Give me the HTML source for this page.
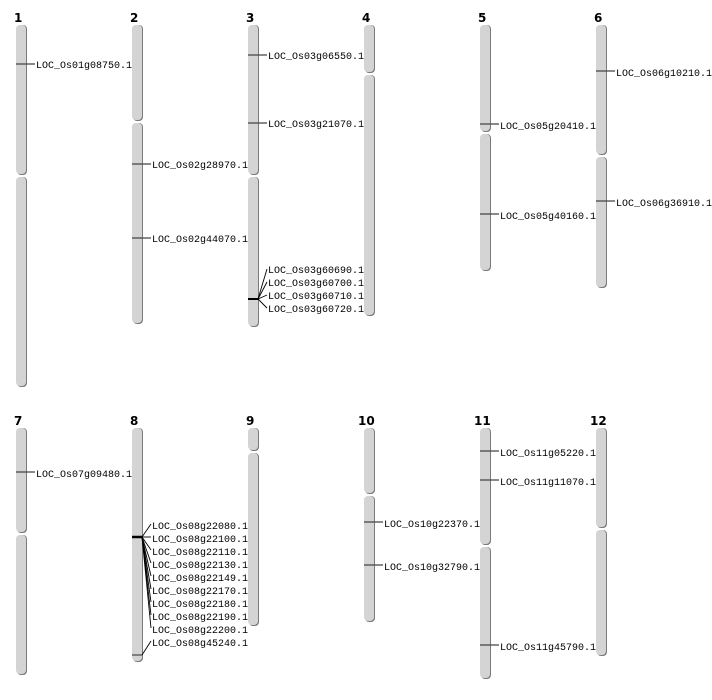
<!DOCTYPE html><html><head><style>body{margin:0;background:#fff}svg{display:block}text{font-family:"Liberation Mono","DejaVu Sans Mono",monospace;font-size:10px;fill:#000}.t{font-family:"DejaVu Sans","Liberation Sans",sans-serif;font-weight:bold;font-size:12px}.s{fill:#7a7a7a}.c{fill:#d4d4d4}.m{stroke:#444;stroke-width:1.2}.f{stroke:#000;stroke-width:0.9}</style></head><body>
<svg width="712" height="700" xmlns="http://www.w3.org/2000/svg">
<g id="chroms">
<rect class="s" x="17" y="25" width="10" height="150" rx="4"/><rect class="c" x="16" y="25" width="10" height="149" rx="4"/>
<rect class="s" x="17" y="177" width="10" height="210" rx="4"/><rect class="c" x="16" y="177" width="10" height="209" rx="4"/>
<rect class="s" x="133" y="25" width="10" height="96" rx="4"/><rect class="c" x="132" y="25" width="10" height="95" rx="4"/>
<rect class="s" x="133" y="123" width="10" height="201" rx="4"/><rect class="c" x="132" y="123" width="10" height="200" rx="4"/>
<rect class="s" x="249" y="25" width="10" height="150" rx="4"/><rect class="c" x="248" y="25" width="10" height="149" rx="4"/>
<rect class="s" x="249" y="177" width="10" height="150" rx="4"/><rect class="c" x="248" y="177" width="10" height="149" rx="4"/>
<rect class="s" x="365" y="25" width="10" height="48" rx="4"/><rect class="c" x="364" y="25" width="10" height="47" rx="4"/>
<rect class="s" x="365" y="75" width="10" height="241" rx="4"/><rect class="c" x="364" y="75" width="10" height="240" rx="4"/>
<rect class="s" x="481" y="25" width="10" height="107" rx="4"/><rect class="c" x="480" y="25" width="10" height="106" rx="4"/>
<rect class="s" x="481" y="134" width="10" height="137" rx="4"/><rect class="c" x="480" y="134" width="10" height="136" rx="4"/>
<rect class="s" x="597" y="25" width="10" height="130" rx="4"/><rect class="c" x="596" y="25" width="10" height="129" rx="4"/>
<rect class="s" x="597" y="157" width="10" height="131" rx="4"/><rect class="c" x="596" y="157" width="10" height="130" rx="4"/>
<rect class="s" x="17" y="428" width="10" height="105" rx="4"/><rect class="c" x="16" y="428" width="10" height="104" rx="4"/>
<rect class="s" x="17" y="535" width="10" height="140" rx="4"/><rect class="c" x="16" y="535" width="10" height="139" rx="4"/>
<rect class="s" x="133" y="428" width="10" height="234" rx="4"/><rect class="c" x="132" y="428" width="10" height="233" rx="4"/>
<rect class="s" x="249" y="428" width="10" height="23" rx="4"/><rect class="c" x="248" y="428" width="10" height="22" rx="4"/>
<rect class="s" x="249" y="453" width="10" height="173" rx="4"/><rect class="c" x="248" y="453" width="10" height="172" rx="4"/>
<rect class="s" x="365" y="428" width="10" height="66" rx="4"/><rect class="c" x="364" y="428" width="10" height="65" rx="4"/>
<rect class="s" x="365" y="496" width="10" height="126" rx="4"/><rect class="c" x="364" y="496" width="10" height="125" rx="4"/>
<rect class="s" x="481" y="428" width="10" height="117" rx="4"/><rect class="c" x="480" y="428" width="10" height="116" rx="4"/>
<rect class="s" x="481" y="547" width="10" height="132" rx="4"/><rect class="c" x="480" y="547" width="10" height="131" rx="4"/>
<rect class="s" x="597" y="428" width="10" height="100" rx="4"/><rect class="c" x="596" y="428" width="10" height="99" rx="4"/>
<rect class="s" x="597" y="530" width="10" height="126" rx="4"/><rect class="c" x="596" y="530" width="10" height="125" rx="4"/>
</g>
<g>
<text class="t" x="14" y="22">1</text><text class="t" x="130" y="22">2</text><text class="t" x="246" y="22">3</text><text class="t" x="362" y="22">4</text><text class="t" x="478" y="22">5</text><text class="t" x="594" y="22">6</text>
<text class="t" x="14" y="425">7</text><text class="t" x="130" y="425">8</text><text class="t" x="246" y="425">9</text><text class="t" x="358" y="425">10</text><text class="t" x="474" y="425">11</text><text class="t" x="590" y="425">12</text>
</g>
<g>
<line class="m" x1="16" y1="64" x2="35" y2="64"/><text x="36" y="68">LOC_Os01g08750.1</text>
<line class="m" x1="132" y1="164" x2="151" y2="164"/><text x="152" y="168">LOC_Os02g28970.1</text>
<line class="m" x1="132" y1="238" x2="151" y2="238"/><text x="152" y="242">LOC_Os02g44070.1</text>
<line class="m" x1="248" y1="55" x2="267" y2="55"/><text x="268" y="59">LOC_Os03g06550.1</text>
<line class="m" x1="248" y1="123" x2="267" y2="123"/><text x="268" y="127">LOC_Os03g21070.1</text>
<line x1="248" y1="299" x2="259" y2="299" stroke="#000" stroke-width="2"/>
<line class="f" x1="258" y1="299" x2="267" y2="269"/><line class="f" x1="258" y1="299" x2="267" y2="282"/><line class="f" x1="258" y1="299" x2="267" y2="295"/><line class="f" x1="258" y1="299" x2="267" y2="308"/>
<text x="268" y="273">LOC_Os03g60690.1</text><text x="268" y="286">LOC_Os03g60700.1</text><text x="268" y="299">LOC_Os03g60710.1</text><text x="268" y="312">LOC_Os03g60720.1</text>
<line class="m" x1="480" y1="124" x2="499" y2="124"/><text x="500" y="129">LOC_Os05g20410.1</text>
<line class="m" x1="480" y1="214" x2="499" y2="214"/><text x="500" y="219">LOC_Os05g40160.1</text>
<line class="m" x1="596" y1="71" x2="615" y2="71"/><text x="616" y="76">LOC_Os06g10210.1</text>
<line class="m" x1="596" y1="201" x2="615" y2="201"/><text x="616" y="206">LOC_Os06g36910.1</text>
<line class="m" x1="16" y1="472" x2="35" y2="472"/><text x="36" y="477">LOC_Os07g09480.1</text>
<line x1="132" y1="537" x2="143" y2="537" stroke="#000" stroke-width="2.5"/>
<line class="f" x1="142" y1="537" x2="151" y2="524"/><line class="f" x1="142" y1="537" x2="151" y2="537"/><line class="f" x1="142" y1="537" x2="151" y2="550"/><line class="f" x1="142" y1="537" x2="151" y2="563"/><line class="f" x1="142" y1="537" x2="151" y2="576"/><line class="f" x1="142" y1="537" x2="151" y2="589"/><line class="f" x1="142" y1="537" x2="151" y2="602"/><line class="f" x1="142" y1="537" x2="151" y2="615"/><line class="f" x1="142" y1="537" x2="151" y2="628"/>
<text x="152" y="529">LOC_Os08g22080.1</text><text x="152" y="542">LOC_Os08g22100.1</text><text x="152" y="555">LOC_Os08g22110.1</text><text x="152" y="568">LOC_Os08g22130.1</text><text x="152" y="581">LOC_Os08g22149.1</text><text x="152" y="594">LOC_Os08g22170.1</text><text x="152" y="607">LOC_Os08g22180.1</text><text x="152" y="620">LOC_Os08g22190.1</text><text x="152" y="633">LOC_Os08g22200.1</text>
<line class="m" x1="132" y1="655" x2="142" y2="655"/><line class="f" x1="142" y1="655" x2="151" y2="641"/><text x="152" y="646">LOC_Os08g45240.1</text>
<line class="m" x1="364" y1="522" x2="383" y2="522"/><text x="384" y="527">LOC_Os10g22370.1</text>
<line class="m" x1="364" y1="565" x2="383" y2="565"/><text x="384" y="570">LOC_Os10g32790.1</text>
<line class="m" x1="480" y1="451" x2="499" y2="451"/><text x="500" y="456">LOC_Os11g05220.1</text>
<line class="m" x1="480" y1="480" x2="499" y2="480"/><text x="500" y="485">LOC_Os11g11070.1</text>
<line class="m" x1="480" y1="645" x2="499" y2="645"/><text x="500" y="650">LOC_Os11g45790.1</text>
</g>
</svg></body></html>
